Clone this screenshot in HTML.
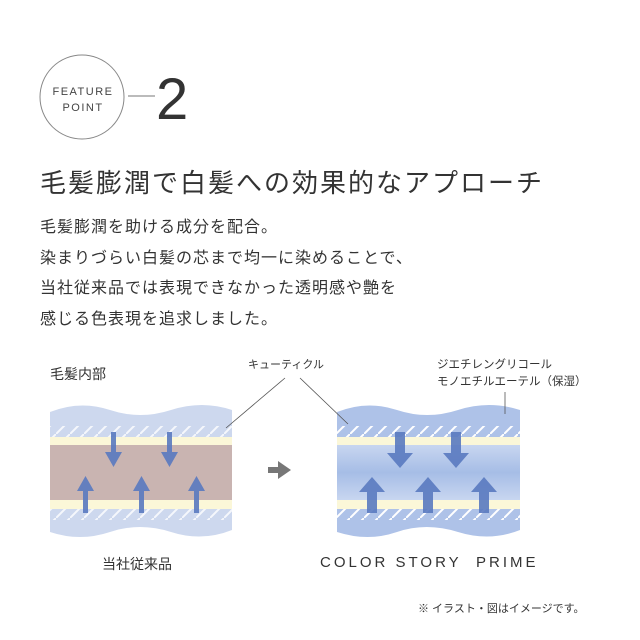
<!DOCTYPE html>
<html><head><meta charset="utf-8"><style>
body{margin:0;width:640px;height:640px;background:#fff;overflow:hidden;position:relative;font-family:"Liberation Sans","Noto Sans CJK JP",sans-serif;color:#333}
.t{position:absolute;white-space:nowrap}
</style></head><body>
<svg width="640" height="640" style="position:absolute;left:0;top:0">
<defs>
<linearGradient id="rg" x1="0" y1="0" x2="0" y2="1">
<stop offset="0" stop-color="#c8d6f0"/><stop offset="0.5" stop-color="#a6bde6"/><stop offset="1" stop-color="#c8d6f0"/></linearGradient>
<clipPath id="cl"><path d="M50 412 Q80 400 110 410 T171 410 T232 410 V530 Q202 542 171 532 T110 532 T50 532 Z"/></clipPath>
<clipPath id="cr"><path d="M337 412 Q367 400 397 410 T458 410 T520 410 V530 Q490 542 458 532 T397 532 T337 532 Z"/></clipPath>
<pattern id="h" width="14" height="14" patternUnits="userSpaceOnUse"><path d="M0 14 L14 0" stroke="#fff" stroke-width="2"/></pattern>
</defs>
<circle cx="82" cy="97" r="42" fill="none" stroke="#888" stroke-width="1"/>
<line x1="128" y1="96" x2="155" y2="96" stroke="#777"/>
<g clip-path="url(#cl)">
<rect x="50" y="400" width="182" height="145" fill="#cdd8ee"/>
<rect x="50" y="426" width="182" height="11" fill="url(#h)" opacity=".8"/>
<rect x="50" y="509" width="182" height="11" fill="url(#h)" opacity=".8"/>
<rect x="50" y="437" width="182" height="8" fill="#fbf7d8"/>
<rect x="50" y="500" width="182" height="9" fill="#fbf7d8"/>
<rect x="50" y="445" width="182" height="55" fill="#c9b4b1"/>
</g>
<g clip-path="url(#cr)">
<rect x="337" y="400" width="183" height="145" fill="#aec2e8"/>
<rect x="337" y="426" width="183" height="11" fill="url(#h)"/>
<rect x="337" y="509" width="183" height="11" fill="url(#h)"/>
<rect x="337" y="437" width="183" height="8" fill="#fbf7d8"/>
<rect x="337" y="500" width="183" height="9" fill="#fbf7d8"/>
<rect x="337" y="445" width="183" height="55" fill="url(#rg)"/>
</g>
<g fill="#5a7ac0" opacity=".9">
<path d="M111 432h5v20h6l-8.5 15l-8.5-15h6z"/><path d="M167 432h5v20h6l-8.5 15l-8.5-15h6z"/>
<path d="M83 513h5v-22h6l-8.5-15l-8.5 15h6z"/><path d="M139 513h5v-22h6l-8.5-15l-8.5 15h6z"/><path d="M194 513h5v-22h6l-8.5-15l-8.5 15h6z"/>
<path d="M395 432h10v21h8l-13 15l-13-15h8z"/><path d="M451 432h10v21h8l-13 15l-13-15h8z"/>
<path d="M367 513h10v-21h8l-13-15l-13 15h8z"/><path d="M423 513h10v-21h8l-13-15l-13 15h8z"/><path d="M479 513h10v-21h8l-13-15l-13 15h8z"/>
</g>
<path d="M268 467h10v-6l13 9l-13 9v-6h-10z" fill="#777"/>
<line x1="285" y1="378" x2="226" y2="428" stroke="#555" stroke-width=".8"/>
<line x1="300" y1="378" x2="348" y2="424" stroke="#555" stroke-width=".8"/>
<line x1="505" y1="392" x2="505" y2="414" stroke="#555" stroke-width=".8"/>
</svg>
<div class="t" style="left:52px;top:84px;font-size:11px;letter-spacing:1.5px;width:62px;text-align:center;line-height:16px;color:#444">FEATURE<br>POINT</div>
<div class="t" style="left:156px;top:66px;font-size:58px;color:#333">2</div>
<div class="t" style="left:40px;top:163px;font-size:26px;letter-spacing:2px;color:#333">毛髪膨潤で白髪への効果的なアプローチ</div>
<div class="t" style="left:40px;top:213px;font-size:16px;line-height:30.5px;letter-spacing:1px;color:#333">毛髪膨潤を助ける成分を配合。<br>染まりづらい白髪の芯まで均一に染めることで、<br>当社従来品では表現できなかった透明感や艶を<br>感じる色表現を追求しました。</div>
<div class="t" style="left:50px;top:364px;font-size:14px">毛髪内部</div>
<div class="t" style="left:248px;top:356px;font-size:11px">キューティクル</div>
<div class="t" style="left:437px;top:357px;font-size:11.5px;line-height:17px">ジエチレングリコール<br>モノエチルエーテル（保湿）</div>
<div class="t" style="left:102px;top:554px;font-size:14px">当社従来品</div>
<div class="t" style="left:320px;top:554px;font-size:15px;letter-spacing:3px">COLOR STORY&nbsp; PRIME</div>
<div class="t" style="left:418px;top:600px;font-size:11px">※ イラスト・図はイメージです。</div>
</body></html>
